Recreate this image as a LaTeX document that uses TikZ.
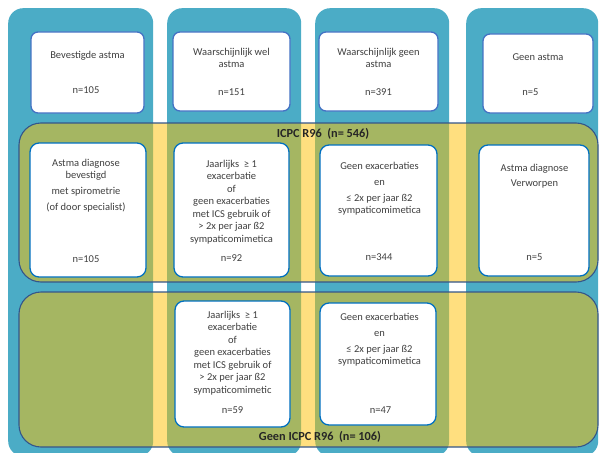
\documentclass[tikz,border=0pt]{standalone}
\usepackage{fontspec}
\setmainfont{Carlito}
\usepackage{tikz}
\usetikzlibrary{positioning}
\definecolor{cCol}{HTML}{4BACC6}
\definecolor{cBand}{HTML}{FFC000}
\definecolor{cEdge}{HTML}{34568B}
\definecolor{cTop}{HTML}{4472C4}
\definecolor{cBox}{HTML}{0070C0}
\definecolor{cTxt}{HTML}{404040}
\tikzset{
  col/.style={fill=cCol, rounded corners=15pt, anchor=north west, inner sep=0pt,
              minimum height=448pt},
  band/.style={draw=cEdge, line width=1.1pt, fill=cBand, fill opacity=0.5,
               rounded corners=22pt, minimum width=579pt, inner sep=0pt},
  topbox/.style={draw=cTop, fill=white, line width=1.3pt, rounded corners=7pt, inner sep=0pt},
  catbox/.style={draw=cBox, fill=white, line width=1.3pt, rounded corners=9pt, inner sep=0pt},
  txt/.style={font=\fontsize{10.5}{12.5}\selectfont, text=cTxt, align=center,
              inner sep=0pt, anchor=north},
  cnt/.style={font=\fontsize{10.5}{12.5}\selectfont, text=cTxt, inner sep=0pt},
  ttl/.style={font=\fontsize{12.3}{14}\selectfont\bfseries, text=black!85, inner sep=0pt},
}
\begin{document}
\begin{tikzpicture}[x=1pt, y=-1pt]
  \useasboundingbox (0,0) rectangle (604,452);
  % columns
  \node[col, minimum width=145pt] (c1) at (8,8) {};
  \node[col, minimum width=134pt] (c2) at (167,8) {};
  \node[col, minimum width=134pt] (c3) at (315,8) {};
  \node[col, minimum width=132pt] (c4) at (466,8) {};

  % bands
  \node[band, minimum height=159pt] (icpc)   at (308.5,202.5) {};
  \node[band, minimum height=155pt] (noicpc) at (308.5,369.5) {};

  % top row
  \node[topbox, minimum width=113pt, minimum height=81pt] (bev)  at (87.5,72.5) {};
  \node[topbox, minimum width=117pt, minimum height=79pt] (wel)  at (231.5,71.5) {};
  \node[topbox, minimum width=119pt, minimum height=79pt] (geen) at (378.5,71.5) {};
  \node[topbox, minimum width=110pt, minimum height=79pt] (nee)  at (538,73.5) {};
  \node[txt] (bevT)  at (87.5,51)  {Bevestigde astma};
  \node[txt] (welT)  at (231.5,48) {Waarschijnlijk wel\\astma};
  \node[txt] (geenT) at (378.5,48) {Waarschijnlijk geen\\astma};
  \node[txt] (neeT)  at (538,53)   {Geen astma};
  \node[cnt] (bevN)  at (86,90)    {n=105};
  \node[cnt] (welN)  at (231.5,92) {n=151};
  \node[cnt] (geenN) at (378.5,92) {n=391};
  \node[cnt] (neeN)  at (530.5,92) {n=5};

  % ICPC R96
  \node[ttl] (icpcT) at (323,134) {ICPC R96~~(n= 546)};
  \node[catbox, minimum width=116pt, minimum height=134pt] (spiro) at (88,210) {};
  \node[catbox, minimum width=115pt, minimum height=134pt] (exaA)  at (231.5,210) {};
  \node[catbox, minimum width=117pt, minimum height=131pt] (rustA) at (378.5,210.5) {};
  \node[catbox, minimum width=110pt, minimum height=131pt] (verw)  at (534,210.5) {};
  \node[txt] (spiroT) at (86,159) {Astma diagnose\\bevestigd\\[3.5pt]met spirometrie\\[3.5pt](of door specialist)};
  \node[txt] (exaAT)  at (231.5,160) {Jaarlijks~ ≥ 1\\exacerbatie\\of\\geen exacerbaties\\met ICS gebruik of\\> 2x per jaar ß2\\sympaticomimetica};
  \node[txt] (rustAT) at (379.5,162) {Geen exacerbaties\\[3.5pt]en\\[3.5pt]≤ 2x per jaar ß2\\sympaticomimetica};
  \node[txt] (verwT)  at (534.5,164) {Astma diagnose\\[2.5pt]Verworpen};
  \node[cnt] (spiroN) at (86,259)    {n=105};
  \node[cnt] (exaAN)  at (231.5,258) {n=92};
  \node[cnt] (rustAN) at (379,257)   {n=344};
  \node[cnt] (verwN)  at (534.5,257) {n=5};

  % geen ICPC R96
  \node[ttl] (noicpcT) at (320,437) {Geen ICPC R96~~(n= 106)};
  \node[catbox, minimum width=115pt, minimum height=126pt] (exaB)  at (232.5,364) {};
  \node[catbox, minimum width=116pt, minimum height=122pt] (rustB) at (378,364) {};
  \node[txt] (exaBT)  at (232.5,311) {Jaarlijks~ ≥ 1\\exacerbatie\\of\\geen exacerbaties\\met ICS gebruik of\\> 2x per jaar ß2\\sympaticomimetic};
  \node[txt] (rustBT) at (379.5,313) {Geen exacerbaties\\[3.5pt]en\\[3.5pt]≤ 2x per jaar ß2\\sympaticomimetica};
  \node[cnt] (exaBN)  at (232.5,410) {n=59};
  \node[cnt] (rustBN) at (380.5,410) {n=47};
\end{tikzpicture}
\end{document}
